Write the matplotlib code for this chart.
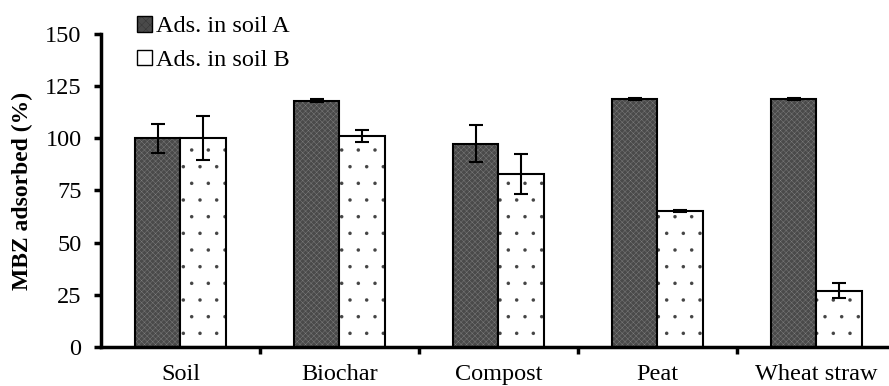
import numpy as np
import matplotlib
matplotlib.use("Agg")
import matplotlib.pyplot as plt
from matplotlib.patches import Patch

plt.rcParams["font.family"] = ["Liberation Serif", "DejaVu Serif"]
plt.rcParams["hatch.linewidth"] = 0.1

categories = ["Soil", "Biochar", "Compost", "Peat", "Wheat straw"]
soil_a     = [100, 118, 97.5, 119, 119]
soil_a_err = [7, 0.6, 9, 0.5, 0.5]
soil_b     = [100, 101, 83, 65, 27]
soil_b_err = [10.5, 3, 9.5, 0.5, 3.5]

x = np.arange(len(categories))
w = 0.285
fs = 17.5

fig = plt.figure(figsize=(8.89, 3.86), dpi=100)
ax = fig.add_axes([0.1136, 0.101, 0.894, 0.811])

# soil A: dark checker texture
ax.bar(x - w/2, soil_a, w, color="#4a4a4a", hatch="xxxxxx", edgecolor="#e6e6e6", linewidth=0)
ax.bar(x - w/2, soil_a, w, fill=False, edgecolor="black", linewidth=1.5)
# soil B: sparse dots
ax.bar(x + w/2, soil_b, w, color="white", hatch=".", edgecolor="#444444", linewidth=0)
ax.bar(x + w/2, soil_b, w, fill=False, edgecolor="black", linewidth=1.5)

ax.errorbar(x - w/2, soil_a, yerr=soil_a_err, fmt="none", ecolor="black", elinewidth=1.5, capsize=5, capthick=1.5)
ax.errorbar(x + w/2, soil_b, yerr=soil_b_err, fmt="none", ecolor="black", elinewidth=1.5, capsize=5, capthick=1.5)

ax.set_xlim(-0.5, len(categories) - 0.5)
ax.set_ylim(0, 150)
ax.set_yticks([0, 25, 50, 75, 100, 125, 150])
ax.set_xticks(x)
ax.set_xticklabels(categories)
ax.set_xticks(x[:-1] + 0.5, minor=True)
ax.tick_params(axis="x", which="major", length=0, pad=12, labelsize=fs)
ax.tick_params(axis="x", which="minor", length=5, width=2.5, direction="out")
ax.tick_params(axis="y", length=5, width=2.5, direction="out", labelsize=fs, pad=9)

for s in ["top", "right"]:
    ax.spines[s].set_visible(False)
for s in ["left", "bottom"]:
    ax.spines[s].set_linewidth(2.5)

ax.set_ylabel("MBZ adsorbed (%)", fontsize=17, fontweight="bold")
ax.yaxis.set_label_coords(-0.086, 0.5)

handles = [Patch(facecolor="#4a4a4a", hatch="xxxx", edgecolor="black", linewidth=1),
           Patch(facecolor="white", edgecolor="black", linewidth=1)]
fig.legend(handles, ["Ads. in soil A", "Ads. in soil B"], loc="upper left",
           bbox_to_anchor=(0.13, 1.015), frameon=False, fontsize=fs,
           handlelength=0.6, handleheight=0.6, handletextpad=0.15, labelspacing=0.5)

plt.savefig("out.png", dpi=100)
